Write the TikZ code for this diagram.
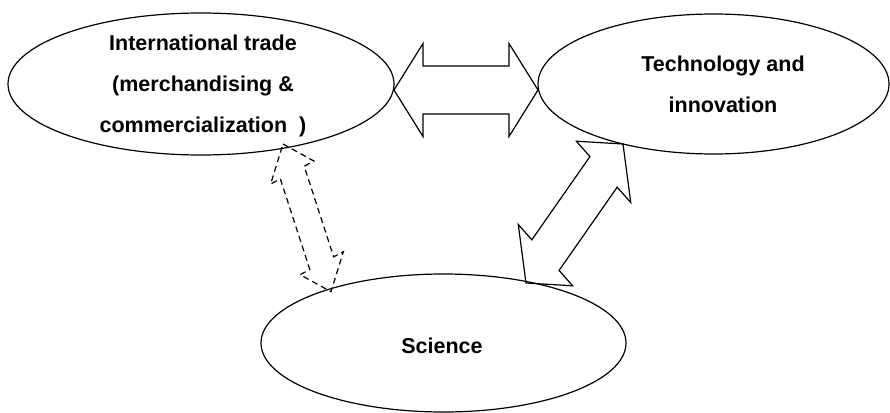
\documentclass[tikz,border=0pt]{standalone}
\usepackage{fontspec}
\setmainfont{Liberation Sans}
\usetikzlibrary{shapes.geometric,calc}

\tikzset{
  bubble/.style={draw, ellipse, line width=1.2pt, inner sep=0pt},
  bubbletext/.style={font=\fontsize{21.5}{41}\selectfont\bfseries, align=center, inner sep=0pt},
  blockarrow/.style={draw, line width=1.2pt, line join=miter}
}

\begin{document}
\begin{tikzpicture}[x=1pt,y=-1pt]
\useasboundingbox (0,0) rectangle (890,412);

\node[bubble, minimum width=386pt, minimum height=142pt] (trade) at (201,84) {};
\node[bubbletext] (tradetext) at (203,86) {International trade\\(merchandising \&\\commercialization\ \ )};

\node[bubble, minimum width=351pt, minimum height=140pt] (tech) at (713.5,84) {};
\node[bubbletext] (techtext) at (723,84) {Technology and\\innovation};

\node[bubble, minimum width=365pt, minimum height=138pt] (science) at (443.5,343) {};
\node[bubbletext] (sciencetext) at (442,345.5) {Science};

% tips of the block arrows
\coordinate (ta) at (394,90);% trade
\coordinate (tb) at (538,90);% tech
\coordinate (sa) at (526,283);% science
\coordinate (sb) at (623,144);% tech
\coordinate (da) at (283,144);% trade
\coordinate (db) at (331,291.7);% science

% trade <-> tech
\draw[blockarrow] (ta)
  -- ($(ta)!29pt!(tb)!46.5pt!90:(tb)$) -- ($(ta)!29pt!(tb)!24pt!90:(tb)$)
  -- ($(tb)!29pt!(ta)!24pt!-90:(ta)$) -- ($(tb)!29pt!(ta)!46.5pt!-90:(ta)$)
  -- (tb)
  -- ($(tb)!29pt!(ta)!46.5pt!90:(ta)$) -- ($(tb)!29pt!(ta)!24pt!90:(ta)$)
  -- ($(ta)!29pt!(tb)!24pt!-90:(tb)$) -- ($(ta)!29pt!(tb)!46.5pt!-90:(tb)$)
  -- cycle;

% science <-> tech (heads slanted)
\draw[blockarrow] (sa)
  -- ($(sa)!34pt!(sb)!41pt!76.5:(sb)$) -- ($(sa)!34pt!(sb)!20.5pt!76.5:(sb)$)
  -- ($(sb)!34pt!(sa)!20.5pt!-103.5:(sa)$) -- ($(sb)!34pt!(sa)!41pt!-103.5:(sa)$)
  -- (sb)
  -- ($(sb)!34pt!(sa)!41pt!76.5:(sa)$) -- ($(sb)!34pt!(sa)!20.5pt!76.5:(sa)$)
  -- ($(sa)!34pt!(sb)!20.5pt!-103.5:(sb)$) -- ($(sa)!34pt!(sb)!41pt!-103.5:(sb)$)
  -- cycle;

% trade <-> science
\draw[blockarrow, dash pattern=on 6pt off 4pt] (da)
  -- ($(da)!30pt!(db)!24.5pt!100:(db)$) -- ($(da)!30pt!(db)!13.5pt!100:(db)$)
  -- ($(db)!30pt!(da)!13.5pt!-80:(da)$) -- ($(db)!30pt!(da)!24.5pt!-80:(da)$)
  -- (db)
  -- ($(db)!30pt!(da)!24.5pt!100:(da)$) -- ($(db)!30pt!(da)!13.5pt!100:(da)$)
  -- ($(da)!30pt!(db)!13.5pt!-80:(db)$) -- ($(da)!30pt!(db)!24.5pt!-80:(db)$)
  -- cycle;
\end{tikzpicture}
\end{document}
